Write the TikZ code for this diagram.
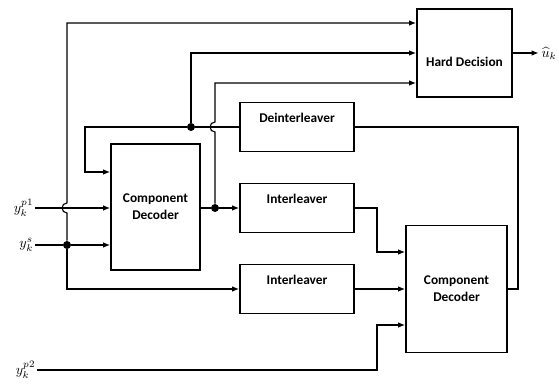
\documentclass[tikz,border=0pt]{standalone}
\usepackage{amsmath}
\usepackage{fontspec}
\newfontfamily\blockfont{Carlito}
\usetikzlibrary{calc,arrows.meta}

\begin{document}
\begin{tikzpicture}[x=0.025cm, y=0.025cm, >={Latex[length=5pt,width=4pt]},
  block/.style={draw, line width=1.3pt, inner sep=0pt, align=center,
    font=\blockfont\bfseries\fontsize{9.5}{12}\selectfont},
  leaver/.style={block, minimum width=2.85cm, text height=0.49cm, text depth=0.735cm},
  decoder/.style={block, minimum width=2.3cm, minimum height=3.15cm},
  wire/.style={line width=0.8pt},
  signal/.style={inner sep=1pt},
  dot/.style={circle, fill, inner sep=0pt, minimum size=0.2cm}]
  \useasboundingbox (0,0) rectangle (559,385);
  \node[block, minimum width=2.375cm, text height=1.45cm, text depth=0.75cm] (hd) at (464.5,332) {Hard Decision};
  \node[leaver] (deint) at (297,258) {Deinterleaver};
  \node[decoder, minimum width=2.225cm] (cd1) at (155.5,178) {Component\\Decoder};
  \node[leaver] (int1) at (297,177) {Interleaver};
  \node[leaver] (int2) at (297,96) {Interleaver};
  \node[decoder, minimum width=2.525cm, minimum height=3.175cm] (cd2) at (456.5,96) {Component\\Decoder};
  \node[signal, anchor=east] (yp1) at (35,177) {$y_k^{p1}$};
  \node[signal, anchor=east] (ys) at (35,140) {$y_k^{s}$};
  \node[signal, anchor=east] (yp2) at (37,15) {$y_k^{p2}$};
  \node[signal, anchor=west] (uk) at (540,332) {$\widehat{u}_k$};
  \node[dot] (d1) at (67,140) {};
  \node[dot] (d2) at (215,177) {};
  \node[dot] (d3) at (191,258) {};
  \draw[wire,->] (yp1.east) -- (cd1.west |- yp1.east);
  \draw[wire,->] (ys.east) -- (d1) -- (cd1.west |- d1);
  \draw[wire,->] (d1) -- (67,172) arc[start angle=-90, end angle=-270, radius=5] |- ($(hd.west)+(0,30)$);
  \draw[wire,->] (d1) |- (int2.west);
  \draw[wire] (cd1.east |- d2) -- (d2);
  \draw[wire,->] (d2) -- (int1.west);
  \draw[wire,->] (d2) -- (215,253) arc[start angle=-90, end angle=-270, radius=5] |- ($(hd.west)+(0,-30)$);
  \draw[wire] (deint.west) -- (d3);
  \draw[wire,->] (d3) -- (85,258) |- ($(cd1.west)+(0,35)$);
  \draw[wire,->] (d3) |- (hd.west);
  \draw[wire,->] (int1.east) -- (377,177) |- ($(cd2.west)+(0,37)$);
  \draw[wire,->] (int2.east) -- (cd2.west);
  \draw[wire,->] (yp2.east) -- (377,15) |- ($(cd2.west)+(0,-36)$);
  \draw[wire] (cd2.east) -- (518,96) |- (deint.east);
  \draw[wire,->] (hd.east) -- ([xshift=-1pt]uk.west);
\end{tikzpicture}
\end{document}
